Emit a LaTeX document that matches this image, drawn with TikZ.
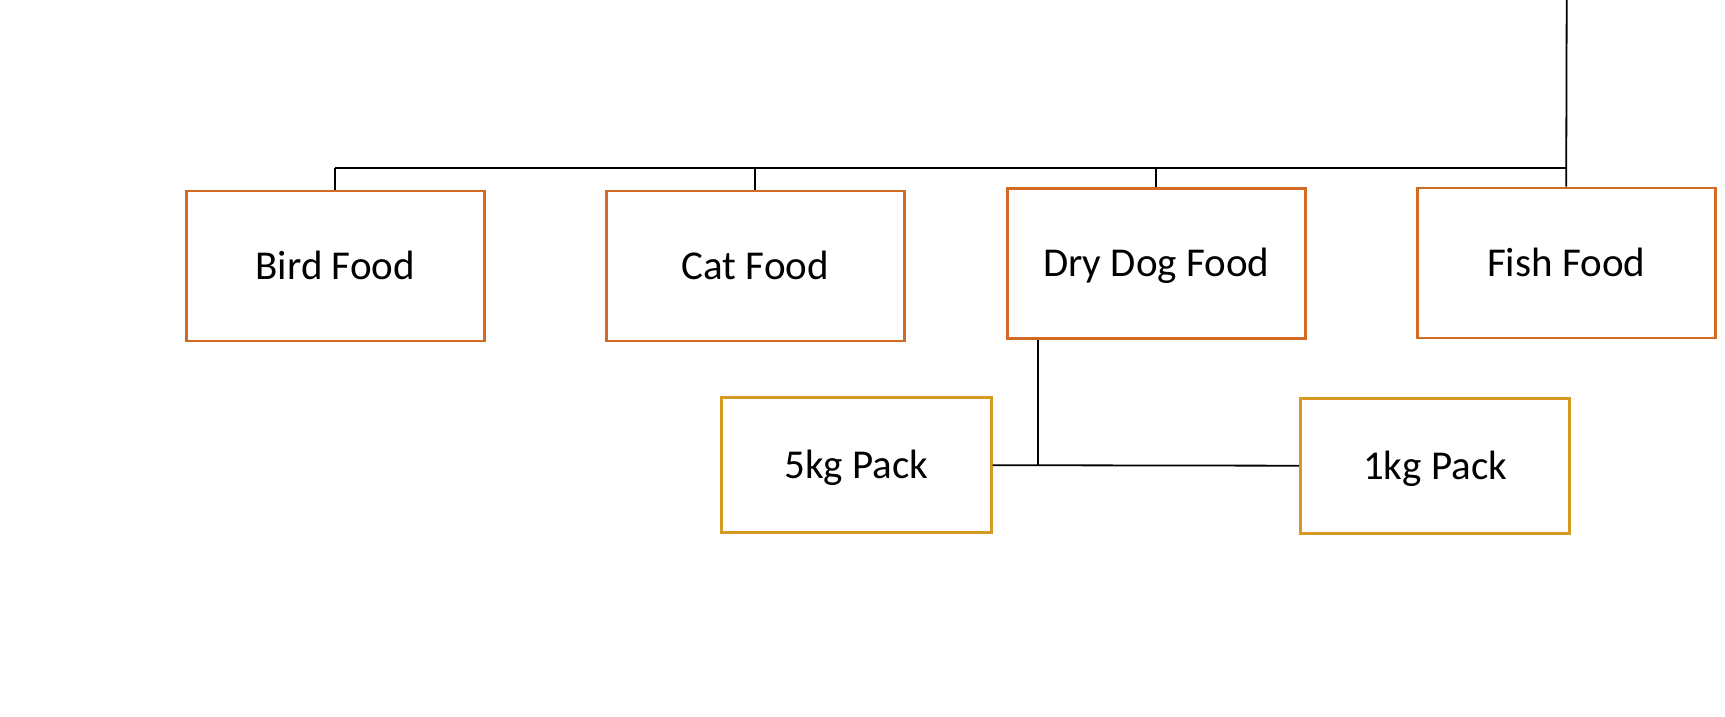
\documentclass[tikz,border=0pt]{standalone}
\usepackage{fontspec}
\setmainfont{Carlito}
\definecolor{boxorange}{RGB}{208,106,36}
\definecolor{boxgold}{RGB}{214,153,34}
\begin{document}
\begin{tikzpicture}[x=1pt,y=-1pt,
  catbox/.style={draw=boxorange,line width=2.6pt,rectangle,minimum width=298pt,minimum height=150pt,
    font=\fontsize{41}{49}\selectfont,text height=27pt,text depth=0pt,inner sep=0pt},
  packbox/.style={draw=boxgold,line width=2.6pt,rectangle,minimum width=269.5pt,minimum height=135pt,
    font=\fontsize{41}{49}\selectfont,text height=27pt,text depth=0pt,inner sep=0pt},
  conn/.style={draw=black,line width=1.8pt}]
\useasboundingbox (0,0) rectangle (1725,717);
\node[catbox] (bird) at (335.3,266) {Bird Food};
\node[catbox] (cat) at (755.3,266) {Cat Food};
\node[catbox] (dry) at (1156.3,263.3) {Dry Dog Food};
\node[catbox] (fish) at (1566.2,263) {Fish Food};
\node[packbox] (p5) at (856.5,465.2) {5kg Pack};
\node[packbox] (p1) at (1435,465.7) {1kg Pack};
\coordinate (top) at (1566.7,0);
\coordinate (bus) at (1566.7,168);
\draw[conn] (top) -- (fish.north);
\draw[conn] (bird.north |- bus) -- (bus);
\draw[conn] (bird.north |- bus) -- (bird.north);
\draw[conn] (cat.north |- bus) -- (cat.north);
\draw[conn] (dry.north |- bus) -- (dry.north);
\coordinate (dd) at ([xshift=31.7pt]dry.south west);
\draw[conn] (dd) -- (dd |- p5.east);
\draw[conn] (p5.east) -- (p1.west);
\end{tikzpicture}
\end{document}
